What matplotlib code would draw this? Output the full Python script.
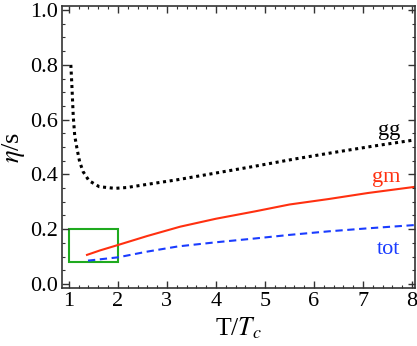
import matplotlib
matplotlib.use("Agg")
import matplotlib.pyplot as plt
from matplotlib.ticker import MultipleLocator
from matplotlib.patches import Rectangle

# gg (dotted black)
gg_x = [1.04, 1.06, 1.075, 1.09, 1.12, 1.17, 1.22, 1.29, 1.41, 1.62, 1.94, 2.18, 2.65, 3.2, 4.0, 4.8, 5.6, 6.4, 7.2, 8.06]
gg_y = [0.80, 0.73, 0.67, 0.61, 0.54, 0.49, 0.446, 0.41, 0.377, 0.355, 0.349, 0.352, 0.365, 0.38, 0.405, 0.43, 0.456, 0.48, 0.503, 0.526]
# gm (solid red)
gm_x = [1.37, 1.63, 2.0, 2.6, 3.27, 4.0, 4.8, 5.5, 6.3, 7.1, 8.08]
gm_y = [0.106, 0.122, 0.142, 0.175, 0.209, 0.238, 0.265, 0.29, 0.31, 0.332, 0.355]
# tot (dashed blue)
tot_x = [1.39, 2.0, 2.6, 3.23, 4.0, 4.8, 5.5, 6.3, 7.1, 8.06]
tot_y = [0.085, 0.097, 0.118, 0.137, 0.152, 0.166, 0.179, 0.192, 0.203, 0.215]

labels = ["gg", "gm", "tot"]
label_x = [7.53, 7.47, 7.51]
label_y = [0.56, 0.39, 0.124]

box_x = [1.0, 2.0]
box_y = [0.08, 0.2]

plt.rcParams['font.family'] = ['Liberation Serif', 'DejaVu Serif']
plt.rcParams['mathtext.fontset'] = 'stix'

fig = plt.figure(figsize=(4.17, 3.46), dpi=100)
ax = fig.add_axes([0.1487, 0.1676, 0.8465, 0.8151])

red = '#ff3010'
blue = '#1a3cff'
ax.plot(gg_x, gg_y, color='black', lw=2.2, linestyle=(0, (1.0, 1.2)), dash_capstyle='butt')
ax.plot(gm_x, gm_y, color=red, lw=1.5)
ax.plot(tot_x, tot_y, color=blue, lw=1.5, linestyle=(0, (3.5, 2.2)))

ax.add_patch(Rectangle((box_x[0], box_y[0]), box_x[1] - box_x[0], box_y[1] - box_y[0],
                       fill=False, edgecolor='#1faa1f', lw=1.5))

colors = ['black', red, blue]
for t, x, y, c in zip(labels, label_x, label_y, colors):
    ax.text(x, y, t, color=c, fontsize=16, ha='center', va='center')

ax.set_xlim(0.86, 8.06)
ax.set_ylim(-0.015, 1.015)
ax.xaxis.set_major_locator(MultipleLocator(1))
ax.xaxis.set_minor_locator(MultipleLocator(0.2))
ax.yaxis.set_major_locator(MultipleLocator(0.2))
ax.yaxis.set_minor_locator(MultipleLocator(0.05))
ax.yaxis.set_major_formatter(matplotlib.ticker.FormatStrFormatter('%.1f'))
ax.tick_params(which='both', direction='in', top=True, right=True, labelsize=16, color='#333333')
ax.tick_params(which='major', length=5, width=1, pad=3)
ax.tick_params(which='minor', length=2.5, width=0.8)
for s in ax.spines.values():
    s.set_color('#333333')
    s.set_linewidth(1.2)

ax.set_xlabel('T/$T_c$', fontsize=18.5, labelpad=3)
ax.set_ylabel('$\\eta$/s', fontsize=19, labelpad=2)

fig.savefig('out.png', dpi=100)
